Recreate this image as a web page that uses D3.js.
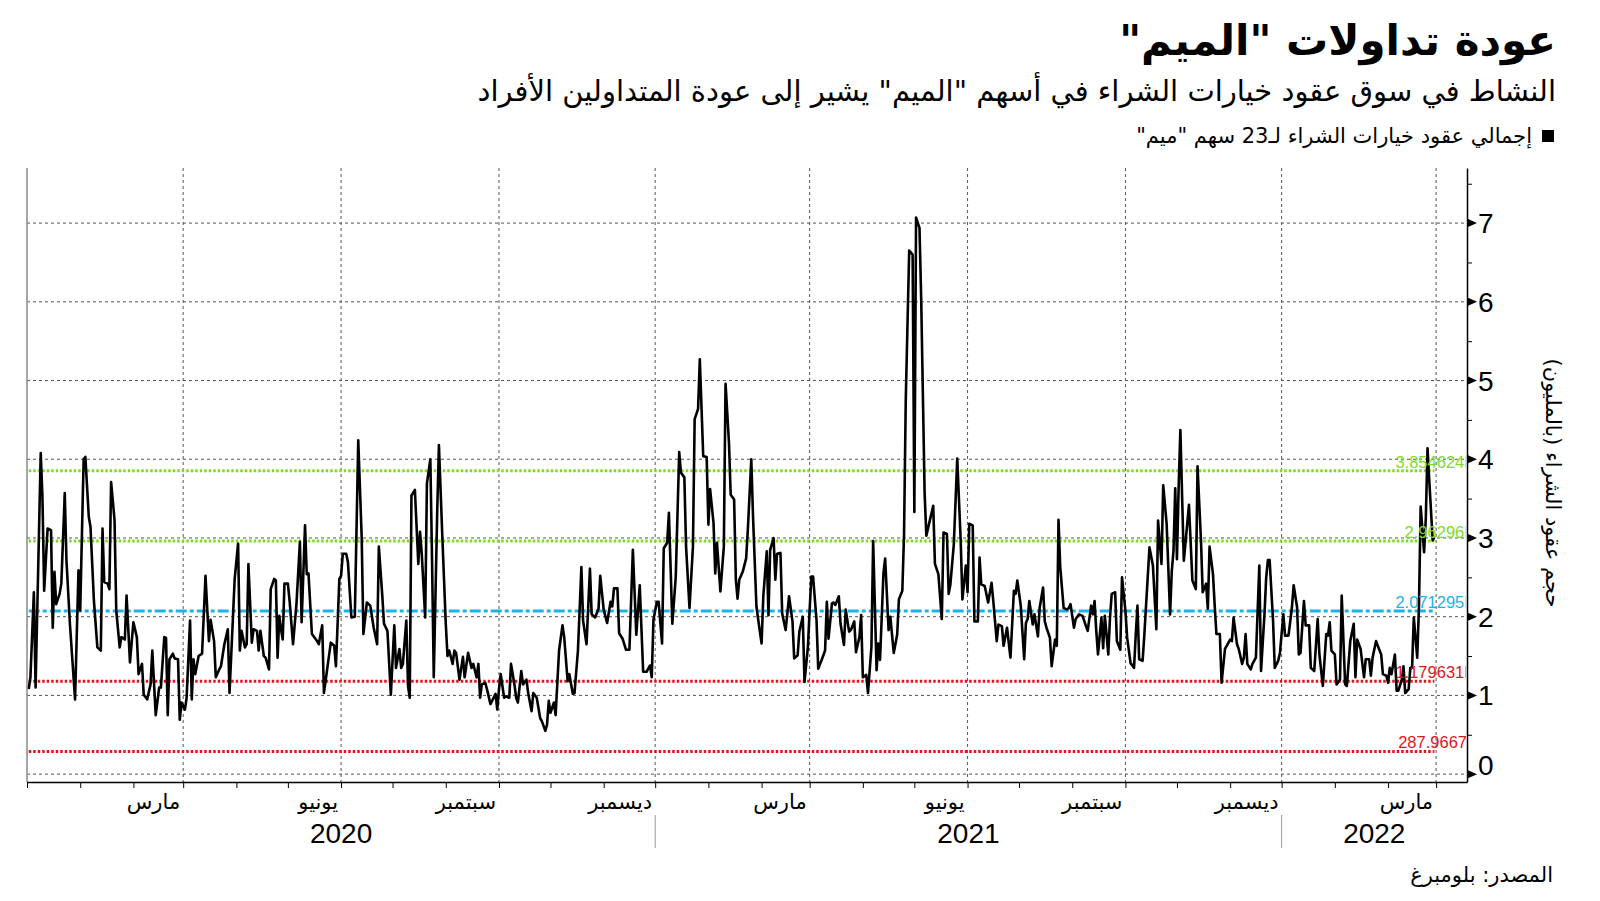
<!DOCTYPE html>
<html>
<head>
<meta charset="utf-8">
<script src="https://cdn.jsdelivr.net/npm/d3@7"></script>
<style>
  body { margin: 0; background: #fff; }
  svg { display: block; }
</style>
</head>
<body>
<div id="chart"></div>
<script>
// ---- data ----
const startDay = "2019-12-01"; // day 0 of the day numbers below

// days after startDay
const dayNums = [
  1,2,4,5,8,9,10,12,14,15, 16,17,19,20,22,23,25,28,30,31, 33,34,36,37,39,41,43,44,45,47,
  48,49,51,52,54,55,57,58,60,62, 64,65,67,68,70,72,73,75,77,78, 80,81,82,83,85,86,88,89,90,92,
  93,95,96,97,98,100,102,104,106,107, 109,110,112,113,115,117,118,121,123,124,
  125,127,128,129,131,132,134,135,136,138, 139,141,142,144,145,146,147,148,149,150,
  152,153,155,157,159,160,162,163,164,
  166,169,170,172,173,175,177,179,180,182, 183,184,186,187,189,191,193,195,196,198,
  200,202,204,205,207,208,210,212,214,215, 217,218,219,221,222,223,224,226,228,229,
  230,232,233,235,236,237,239,240,242,244, 245,246,248,249,250,252,254,255,257,259,
  260,262,263,264,265,267,268,270,271,273, 274,275,276,278,279,281,282,284,285,286,
  288,289,291,292,294,295,297,299,300,302, 303,304,305,307,308,310,312,313,315,316,
  318,319,321,323,324,326,328,329,331,333, 334,
  336,338,340,341,342,344,345,347,349,351, 353,355,357,359,361,363,364,365,367,368,
  370,371,373,374,376,378,380,381,383,384, 386,388,389,391,392,394,396,397,398,400,
  401,402,404,406,407,409,410,412,413,414, 415,417,419,420,422,423,425,427,428,429,
  431,432,433,435,436,437,439,440,442,443, 444,446,447,449,450,452,453,455,456,457,
  458,460,461,463,465,466,467,469,470,471, 473,474,476,477,479,480,482,483,485,486,
  487,489,490,492,493,495,496,497,499,500, 502,503,
  505,507,508,510,511,512,514,516,517,518, 520,521,523,524,526,528,529,531,533,534,
  536,537,538,540,542,544,545,547,548,549, 551,552,554,555,556,558,560,562,563,565,
  566,568,569,571,573,575,576,577,579,581, 582,583,584,586,587,589,590,592,593,594,
  596,597,599,600,601,602,604,606,607,608, 610,611,613,615,617,618,620,621,622,623,
  624,626,627,628,630,631,632,634,635,637, 638,640,641,643,645,646,647,648,650,651,
  652,654,656,658,659,661,662,664,666,667, 668,669,670,671,672,
  674,676,677,679,681,682,684,685,687,688, 689,691,692,693,695,696,698,699,701,702,
  703,705,706,708,709,710,711,713,714,716, 718,719,721,722,723,724,726,727,729,730,
  732,733,735,737,738,740,741,742,744,745, 747,748,750,752,753,755,757,758,759,760,
  762,763,765,766,768,769,771,773,774,775, 777,779,780,782,783,784,786,787,789,790,
  792,793,794,795,797,798,799,801,802,803, 805,806,807,808,810,811,812,814,815,816,
  817,819,820
];

// total call contracts, millions
const calls = [
  1.08,1.23,2.31,1.10,4.08,3.52,2.33,3.12,3.10,1.86, 2.57,2.16,2.29,2.42,3.57,2.71,1.91,0.95,2.59,2.08, 4.00,4.03,3.27,3.14,2.20,1.61,1.57,3.12,2.44,2.42,
  2.35,3.71,3.23,2.08,1.61,1.74,1.71,2.27,1.42,1.93, 1.74,1.27,1.40,1.01,0.95,1.14,1.57,0.75,1.10,1.10, 1.74,1.73,0.75,1.46,1.53,1.47,1.46,0.69,0.91,0.82,
  0.97,1.95,0.95,1.46,1.27,1.50,1.53,2.52,1.69,1.96, 1.69,1.23,1.33,1.37,1.65,1.84,1.03,2.48,2.93,1.57,
  1.82,1.61,1.65,2.67,1.67,1.84,1.82,1.57,1.82,1.50, 1.48,1.33,2.35,2.48,2.46,1.48,2.01,1.84,1.71,2.42,
  2.42,2.20,1.65,2.16,2.95,1.93,3.16,2.54,2.55,
  1.78,1.69,1.65,1.89,1.03,1.35,1.67,1.63,1.37,2.48, 2.52,2.80,2.80,2.69,1.99,2.00,4.24,3.01,1.78,2.18,
  2.14,1.86,1.65,2.89,2.27,1.91,1.82,1.01,1.89,1.35, 1.59,1.35,1.40,1.95,1.12,0.97,3.54,3.61,2.67,3.08,
  2.80,1.99,3.69,4.00,2.71,1.23,3.33,4.18,3.01,1.91, 1.50,1.57,1.40,1.57,1.54,1.20,1.49,1.23,1.54,1.35,
  1.40,1.23,1.40,0.97,1.14,1.16,1.08,0.89,0.93,1.02, 0.82,1.08,1.27,0.97,0.99,0.97,1.40,1.14,0.97,0.91,
  1.31,1.14,1.20,1.03,0.80,1.03,0.97,0.71,0.67,0.55, 0.63,0.93,0.78,0.91,0.75,1.57,1.89,1.74,1.18,1.27,
  1.02,1.03,1.57,2.63,1.95,1.65,2.61,2.03,1.99,2.10, 2.52,
  2.09,1.92,2.19,2.13,2.36,2.36,1.79,1.72,1.58,1.58, 2.85,1.77,2.40,1.30,1.30,1.38,1.23,1.96,2.19,2.19,
  1.66,2.87,2.94,3.32,1.91,2.51,4.09,3.83,3.77,2.89, 2.11,2.89,4.51,4.64,5.27,4.04,4.03,3.17,3.62,3.19,
  2.55,2.94,2.32,2.89,4.96,4.21,3.55,3.49,2.47,2.23, 2.47,2.57,2.74,3.11,4.00,3.28,2.13,1.81,1.66,2.26,
  2.83,2.02,2.85,3.00,2.47,2.80,2.81,2.04,1.83,2.04, 2.26,1.94,1.47,1.51,1.81,2.00,1.17,1.62,2.09,2.51,
  2.51,1.96,1.34,1.45,1.57,2.19,1.72,2.17,2.18,2.15, 2.26,1.91,1.64,2.09,1.81,1.83,1.94,1.55,1.74,2.02,
  1.23,1.26,1.03,1.62,2.96,1.32,1.66,1.45,2.55,2.74, 1.83,2.00,
  1.54,1.77,2.22,2.33,3.05,4.75,6.65,6.60,3.33,7.07, 6.94,6.03,3.56,3.03,3.22,3.41,2.67,2.54,1.97,3.07,
  3.05,2.29,2.41,2.92,4.01,2.97,2.22,2.65,2.31,3.18, 3.16,1.94,1.94,2.75,2.41,2.39,2.18,2.43,2.20,1.69,
  1.90,1.88,1.63,1.86,1.48,2.33,2.29,2.46,2.14,1.46, 1.92,1.97,2.20,1.90,2.03,1.75,2.11,2.37,1.94,1.86,
  1.73,1.37,1.71,1.63,3.23,2.63,2.11,2.09,2.11,2.16, 1.86,1.97,2.03,2.01,1.88,1.82,2.14,2.03,2.20,1.82,
  1.52,1.99,1.60,2.01,1.52,1.99,2.29,2.31,1.69,1.58, 2.50,2.07,1.73,1.41,1.35,1.77,2.14,1.46,1.44,1.77,
  2.14,2.88,2.65,1.84,3.22,2.67,3.67,3.18,2.03,2.58, 2.84,3.63,2.73,3.65,4.37,
  2.71,3.18,3.42,2.46,2.35,3.91,2.97,2.31,2.42,2.10, 2.89,2.54,2.14,1.78,1.78,1.16,1.59,1.63,1.71,1.69,
  1.99,1.65,1.59,1.40,1.48,1.78,1.40,1.33,1.40,1.48, 2.65,1.31,2.03,2.50,2.72,2.72,1.95,1.35,1.44,1.54,
  2.03,1.76,1.76,2.12,2.40,2.12,1.52,1.54,2.20,1.89, 1.89,1.35,1.31,1.97,1.52,1.12,1.78,1.76,1.93,1.57,
  1.52,1.14,1.20,2.27,1.14,1.12,1.69,1.91,1.23,1.71, 1.59,1.23,1.46,1.46,1.25,1.48,1.69,1.63,1.52,1.27,
  1.25,1.16,1.35,1.27,1.52,1.06,1.06,1.20,1.37,1.03, 1.08,1.35,1.35,1.99,1.48,2.12,3.40,2.82,3.25,4.14,
  3.74,2.97,3.01
];

// horizontal reference lines (mean and +/- std bands)
const refValues = [3.854624, 2.96296, 2.071295, 1.179631, 0.2879667];
const refLabels = ["3.854624M", "2.96296M", "2.071295M", "1.179631M", "287.9667K"];
const refColors = ["#7ddc1f", "#7ddc1f", "#1cb2ea", "#e3131b", "#e3131b"];

const yTicks = [0, 1, 2, 3, 4, 5, 6, 7];
const quarterDates = ["2020-03-01","2020-06-01","2020-09-01","2020-12-01","2021-03-01",
                      "2021-06-01","2021-09-01","2021-12-01","2022-03-01"];
const quarterLabels = ["مارس","يونيو","سبتمبر","ديسمبر","مارس","يونيو","سبتمبر","ديسمبر","مارس"];
const yearLabels = ["2020", "2021", "2022"];
const yearBreaks = ["2020-12-01", "2021-12-01"];

const title = "عودة تداولات \"الميم\"";
const subtitle = "النشاط في سوق عقود خيارات الشراء في أسهم \"الميم\" يشير إلى عودة المتداولين الأفراد";
const legendText = "إجمالي عقود خيارات الشراء لـ23 سهم \"ميم\"";
const yTitle = "حجم عقود الشراء (بالمليون)";
const source = "المصدر: بلومبرغ";

// ---- chart ----
const width = 1600, height = 901;
const arFont = "'DejaVu Sans', sans-serif";
const numFont = "'Liberation Sans', Arial, sans-serif";
const parse = d3.timeParse("%Y-%m-%d");
const t0 = parse(startDay);

const data = dayNums.map((d, i) => ({ date: d3.timeDay.offset(t0, d), value: calls[i] }));

const plot = { left: 27, right: 1467, top: 168, bottom: 782 };

const x = d3.scaleTime()
    .domain([t0, parse("2022-03-19")])
    .range([plot.left, plot.right]);

const y = d3.scaleLinear()
    .domain([-0.1, 7.7])
    .range([plot.bottom, plot.top]);

const svg = d3.select("#chart")
    .append("svg")
    .attr("width", width)
    .attr("height", height);

svg.append("rect").attr("width", width).attr("height", height).attr("fill", "#fff");

svg.append("defs").append("clipPath")
    .attr("id", "plotclip")
    .append("rect")
    .attr("x", plot.left)
    .attr("y", plot.top)
    .attr("width", plot.right - plot.left - 1)
    .attr("height", plot.bottom - plot.top);

// title block (rtl: text-anchor start = right edge)
svg.append("text")
    .attr("x", 1556).attr("y", 55)
    .attr("direction", "rtl").attr("text-anchor", "start")
    .style("font-family", arFont).style("font-weight", "bold")
    .style("font-size", "42px").attr("fill", "#000")
    .text(title);

svg.append("text")
    .attr("x", 1556).attr("y", 101)
    .attr("direction", "rtl").attr("text-anchor", "start")
    .style("font-family", arFont)
    .style("font-size", "29px").attr("fill", "#000")
    .text(subtitle);

// legend
svg.append("rect")
    .attr("x", 1542).attr("y", 130)
    .attr("width", 12).attr("height", 12)
    .attr("fill", "#000");

svg.append("text")
    .attr("x", 1532).attr("y", 143)
    .attr("direction", "rtl").attr("text-anchor", "start")
    .style("font-family", arFont)
    .style("font-size", "21px").attr("fill", "#000")
    .text(legendText);

// grid
svg.append("g")
    .selectAll("line")
    .data(yTicks)
    .enter()
    .append("line")
    .attr("x1", plot.left).attr("x2", plot.right)
    .attr("y1", d => y(d)).attr("y2", d => y(d))
    .attr("stroke", "#555")
    .attr("stroke-width", 1)
    .attr("stroke-dasharray", "3,3");

svg.append("g")
    .selectAll("line")
    .data(quarterDates)
    .enter()
    .append("line")
    .attr("x1", d => x(parse(d))).attr("x2", d => x(parse(d)))
    .attr("y1", plot.top).attr("y2", plot.bottom)
    .attr("stroke", "#555")
    .attr("stroke-width", 1)
    .attr("stroke-dasharray", "3,3");

// reference lines
const first = data[0].date, last = data[data.length - 1].date;
const refs = svg.append("g");
refValues.forEach((v, i) => {
    refs.append("line")
        .attr("x1", x(first)).attr("x2", x(last))
        .attr("y1", y(v)).attr("y2", y(v))
        .attr("stroke", refColors[i])
        .attr("stroke-width", 3)
        .attr("stroke-dasharray", i === 2 ? "11,3,4,3" : "2.5,2");
});

// series
const line = d3.line()
    .x(d => x(d.date))
    .y(d => y(d.value));

svg.append("path")
    .datum(data)
    .attr("fill", "none")
    .attr("stroke", "#000")
    .attr("stroke-width", 2.6)
    .attr("stroke-linejoin", "round")
    .attr("d", line);

// reference labels, cut off by the right axis like the original
svg.append("g")
    .attr("clip-path", "url(#plotclip)")
    .selectAll("text")
    .data(refValues)
    .enter()
    .append("text")
    .attr("x", plot.right + 11)
    .attr("y", d => y(d) - 3)
    .attr("text-anchor", "end")
    .style("font-family", numFont)
    .style("font-size", "16.5px")
    .attr("fill", (d, i) => refColors[i])
    .text((d, i) => refLabels[i]);

// left axis line
svg.append("line")
    .attr("x1", plot.left).attr("x2", plot.left)
    .attr("y1", plot.top).attr("y2", plot.bottom)
    .attr("stroke", "#888").attr("stroke-width", 1.5);

// bottom axis: monthly ticks
const xAxis = svg.append("g")
    .attr("transform", `translate(0, ${plot.bottom})`)
    .call(d3.axisBottom(x)
        .ticks(d3.timeMonth.every(1))
        .tickSize(6)
        .tickSizeOuter(0)
        .tickFormat(""));
xAxis.select(".domain").attr("stroke", "#000").attr("stroke-width", 1.5);
xAxis.selectAll(".tick line").attr("stroke", "#000");

svg.append("g")
    .selectAll("text")
    .data(quarterDates)
    .enter()
    .append("text")
    .attr("x", d => x(parse(d)) - 3)
    .attr("y", 809)
    .attr("direction", "rtl").attr("text-anchor", "start")
    .style("font-family", arFont)
    .style("font-size", "21px")
    .attr("fill", "#000")
    .text((d, i) => quarterLabels[i]);

// year row
const bounds = [plot.left, ...yearBreaks.map(d => x(parse(d))), plot.right];
svg.append("g")
    .selectAll("text")
    .data(yearLabels)
    .enter()
    .append("text")
    .attr("x", (d, i) => (bounds[i] + bounds[i + 1]) / 2)
    .attr("y", 843)
    .attr("text-anchor", "middle")
    .style("font-family", numFont)
    .style("font-size", "28px")
    .attr("fill", "#000")
    .text(d => d);

svg.append("g")
    .selectAll("line")
    .data(yearBreaks)
    .enter()
    .append("line")
    .attr("x1", d => x(parse(d))).attr("x2", d => x(parse(d)))
    .attr("y1", 815).attr("y2", 848)
    .attr("stroke", "#999").attr("stroke-width", 1);

// right axis
const yAxis = svg.append("g")
    .attr("transform", `translate(${plot.right}, 0)`)
    .call(d3.axisRight(y)
        .tickValues(yTicks.map(d => d + 0.5))
        .tickSize(5)
        .tickSizeOuter(0)
        .tickFormat(""));
yAxis.select(".domain").attr("stroke", "#000").attr("stroke-width", 1.5);
yAxis.selectAll(".tick line").attr("stroke", "#000");

svg.append("g")
    .selectAll("path")
    .data(yTicks)
    .enter()
    .append("path")
    .attr("d", d => `M${plot.right + 1},${y(d) - 4}L${plot.right + 10},${y(d)}L${plot.right + 1},${y(d) + 4}Z`)
    .attr("fill", "#000");

svg.append("g")
    .selectAll("text")
    .data(yTicks)
    .enter()
    .append("text")
    .attr("x", plot.right + 11)
    .attr("y", d => y(d) - (d === 0 ? 9 : 0))
    .attr("dy", "0.36em")
    .style("font-family", numFont)
    .style("font-size", "28px")
    .attr("fill", "#000")
    .text(d => d);

svg.append("text")
    .attr("transform", "translate(1546, 483) rotate(90)")
    .attr("direction", "rtl")
    .attr("text-anchor", "middle")
    .style("font-family", arFont)
    .style("font-size", "21px")
    .attr("fill", "#000")
    .text(yTitle);

// source
svg.append("text")
    .attr("x", 1553).attr("y", 882)
    .attr("direction", "rtl").attr("text-anchor", "start")
    .style("font-family", arFont)
    .style("font-size", "21px")
    .attr("fill", "#000")
    .text(source);
</script>
</body>
</html>
